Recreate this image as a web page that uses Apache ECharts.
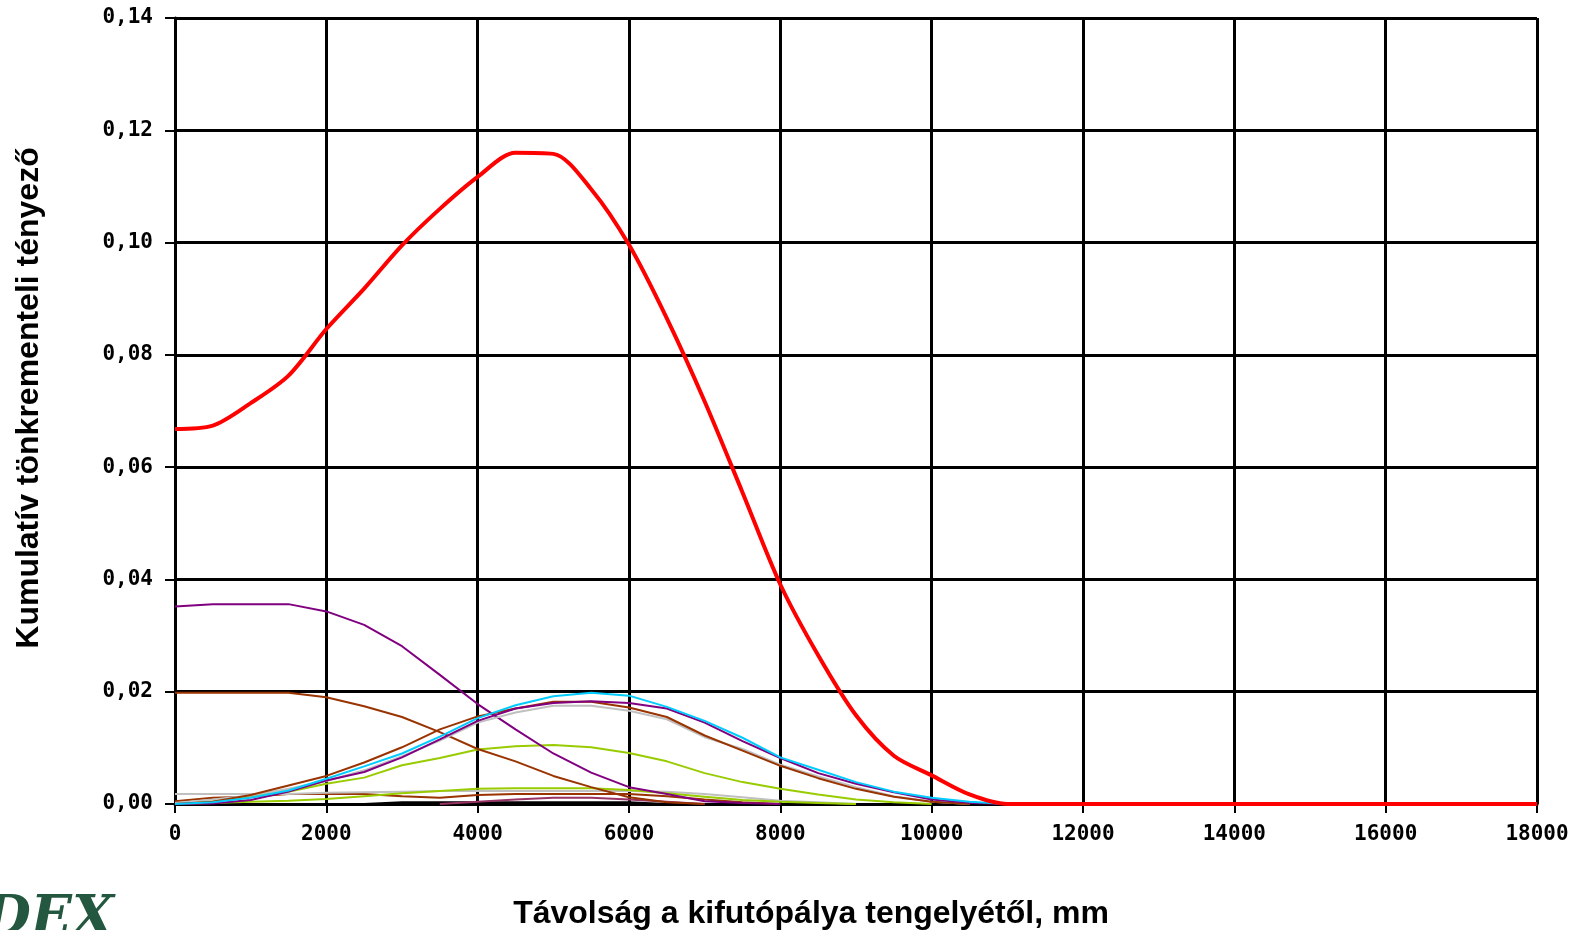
<!DOCTYPE html>
<html>
<head>
<meta charset="utf-8">
<script src="https://cdn.jsdelivr.net/npm/echarts@6/dist/echarts.min.js"></script>
<style>
  html, body { margin: 0; padding: 0; background: #fff; }
  #main { width: 1579px; height: 930px; }
</style>
</head>
<body>
<div id="main"></div>
<script>
// distance from runway centreline, mm
var distance = [0, 500, 1000, 1500, 2000, 2500, 3000, 3500, 4000, 4500, 5000, 5500,
  6000, 6500, 7000, 7500, 8000, 8500, 9000, 9500, 10000, 10500, 11000, 18000];

// cumulative failure factor per series (null = no line)
var total = [0.0668, 0.0674, 0.0714, 0.0763, 0.0846, 0.0918, 0.0995, 0.1060, 0.1117, 0.1160, 0.1158, 0.1095,
  0.0996, 0.0865, 0.0717, 0.0555, 0.0391, 0.0265, 0.0158, 0.0086, 0.0051, 0.0017, 0, 0];
var purpleA = [0.0352, 0.0356, 0.0356, 0.0356, 0.0343, 0.0319, 0.0281, 0.0230, 0.0178, 0.0133, 0.0090, 0.0056,
  0.0030, 0.0018, 0.0005, 0.0002, 0, null, null, null, null, null, null, null];
var brownA = [0.0198, 0.0198, 0.0198, 0.0198, 0.0190, 0.0174, 0.0155, 0.0128, 0.0098, 0.0076, 0.0050, 0.0030,
  0.0012, 0.0003, 0, null, null, null, null, null, null, null, null, null];
var purpleB = [0, 0.0001, 0.0007, 0.0022, 0.0042, 0.0057, 0.0083, 0.0115, 0.0148, 0.0170, 0.0180, 0.0183,
  0.0180, 0.0170, 0.0145, 0.0112, 0.0082, 0.0055, 0.0036, 0.0021, 0.0008, 0.0002, 0, null];
var cyan = [0, 0.0003, 0.0011, 0.0024, 0.0045, 0.0067, 0.0090, 0.0120, 0.0153, 0.0176, 0.0192, 0.0198,
  0.0193, 0.0173, 0.0148, 0.0118, 0.0083, 0.0061, 0.0039, 0.0022, 0.0011, 0.0004, 0, null];
var grayA = [0.0002, 0.0008, 0.0015, 0.0027, 0.0041, 0.0060, 0.0085, 0.0113, 0.0145, 0.0163, 0.0175, 0.0175,
  0.0166, 0.0151, 0.0119, 0.0098, 0.0070, 0.0049, 0.0030, 0.0014, 0.0004, 0, null, null];
var brownB = [0, 0.0004, 0.0016, 0.0033, 0.0050, 0.0074, 0.0101, 0.0133, 0.0156, 0.0170, 0.0182, 0.0182,
  0.0172, 0.0155, 0.0122, 0.0095, 0.0068, 0.0046, 0.0027, 0.0013, 0.0004, 0, null, null];
var green = [0, 0.0005, 0.0014, 0.0022, 0.0036, 0.0047, 0.0069, 0.0082, 0.0097, 0.0103, 0.0105, 0.0101,
  0.0091, 0.0076, 0.0055, 0.0039, 0.0027, 0.0017, 0.0008, 0.0003, 0, null, null, null];
var greenLow = [0, 0.0002, 0.0004, 0.0006, 0.0009, 0.0014, 0.0019, 0.0023, 0.0027, 0.0028, 0.0028, 0.0028,
  0.0025, 0.0019, 0.0013, 0.0007, 0.0004, 0.0002, 0, null, null, null, null, null];
var grayLow = [0.0018, 0.0018, 0.0018, 0.0018, 0.0020, 0.0021, 0.0022, 0.0023, 0.0023, 0.0023, 0.0023, 0.0023,
  0.0023, 0.0022, 0.0018, 0.0012, 0.0006, 0.0003, 0, null, null, null, null, null];
var brownLow = [0.0005, 0.0011, 0.0013, 0.0018, 0.0018, 0.0018, 0.0014, 0.0011, 0.0016, 0.0018, 0.0018, 0.0018,
  0.0018, 0.0014, 0.0008, 0.0003, 0, null, null, null, null, null, null, null];
var maroon = [null, null, null, null, null, null, null, 0, 0.0004, 0.0008, 0.0011, 0.0011,
  0.0008, 0.0004, 0, null, null, null, null, null, null, null, null, null];
var blackLow = [null, null, null, null, null, 0, 0.0003, 0.0003, 0.0003, 0.0003, 0.0003, 0.0003,
  0.0003, 0, null, null, null, null, null, null, null, null, null, null];

var xTicks = { min: 0, max: 18000, step: 2000 };
var yTicks = { min: 0, max: 0.14, step: 0.02 };

function pairs(ys) {
  return distance.map(function (x, i) { return [x, ys[i]]; });
}

function line(name, ys, color, width, smooth) {
  return {
    name: name,
    type: 'line',
    data: pairs(ys),
    showSymbol: false,
    connectNulls: false,
    smooth: smooth || false,
    lineStyle: { color: color, width: width },
    itemStyle: { color: color },
    animation: false
  };
}

var myChart = echarts.init(document.getElementById('main'));

var axisBlack = { lineStyle: { color: '#000', width: 3 } };
var labelFont = { fontFamily: 'DejaVu Sans Mono', fontWeight: 'bold', fontSize: 21, color: '#000' };

option = {
  backgroundColor: '#fff',
  grid: { left: 175, right: 42, top: 18, bottom: 126 },
  xAxis: {
    type: 'value',
    min: xTicks.min,
    max: xTicks.max,
    interval: xTicks.step,
    axisLine: axisBlack,
    axisTick: { show: true, length: 9, lineStyle: { color: '#000', width: 2 } },
    splitLine: { show: true, lineStyle: { color: '#000', width: 3 } },
    axisLabel: Object.assign({ margin: 20, formatter: function (v) { return String(v); } }, labelFont)
  },
  yAxis: {
    type: 'value',
    min: yTicks.min,
    max: yTicks.max,
    interval: yTicks.step,
    axisLine: Object.assign({ show: true }, axisBlack),
    axisTick: { show: true, length: 10, lineStyle: { color: '#000', width: 2 } },
    splitLine: { show: true, lineStyle: { color: '#000', width: 3 } },
    axisLabel: Object.assign({
      margin: 22,
      formatter: function (v) { return v.toFixed(2).replace('.', ','); }
    }, labelFont)
  },
  graphic: [
    {
      type: 'text',
      x: 29, y: 398,
      rotation: Math.PI / 2,
      style: {
        text: 'Kumulatív tönkrementeli tényező',
        font: 'bold 32px "Liberation Sans", Arial, sans-serif',
        fill: '#000',
        align: 'center',
        verticalAlign: 'middle'
      }
    },
    {
      type: 'text',
      x: 811, y: 914,
      style: {
        text: 'Távolság a kifutópálya tengelyétől, mm',
        font: 'bold 32px "Liberation Sans", Arial, sans-serif',
        fill: '#000',
        align: 'center',
        verticalAlign: 'middle'
      }
    },
    {
      type: 'text',
      x: -16, y: 893,
      style: {
        text: 'DEX',
        font: 'italic bold 54px "DejaVu Serif", serif',
        fill: '#24573f',
        align: 'left',
        verticalAlign: 'top'
      }
    }
  ],
  series: [
    line('blackLow', blackLow, '#000000', 2),
    line('maroon', maroon, '#993366', 2),
    line('brownLow', brownLow, '#993300', 2),
    line('grayLow', grayLow, '#C0C0C0', 2),
    line('greenLow', greenLow, '#99CC00', 2),
    line('green', green, '#99CC00', 2),
    line('brownA', brownA, '#993300', 2),
    line('purpleA', purpleA, '#800080', 2),
    line('grayA', grayA, '#C0C0C0', 2),
    line('brownB', brownB, '#993300', 2),
    line('purpleB', purpleB, '#800080', 2),
    line('cyan', cyan, '#00CCFF', 2),
    line('total', total, '#FF0000', 4, 0.3)
  ]
};
myChart.setOption(option);
</script>
</body>
</html>
